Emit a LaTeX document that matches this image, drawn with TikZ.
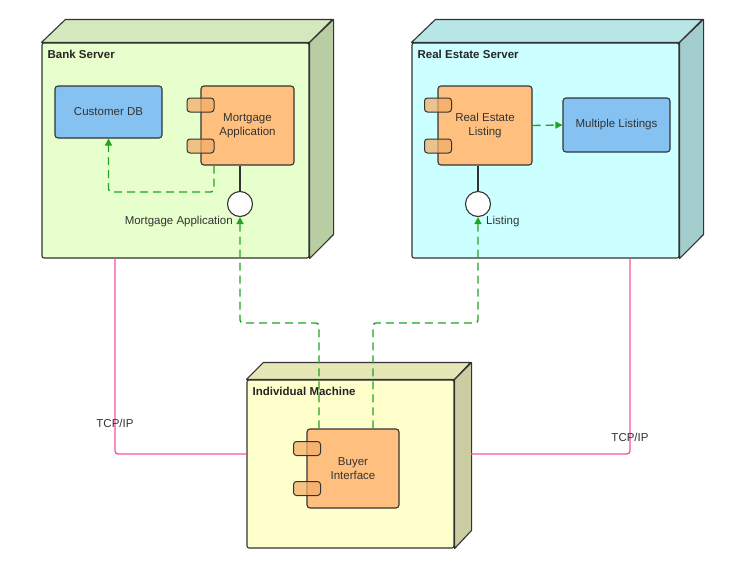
\documentclass[tikz,border=0pt]{standalone}
\usepackage{fontspec}
\setmainfont{Liberation Sans}
\usetikzlibrary{arrows.meta,calc}
\definecolor{bankF}{HTML}{E6FFCC}
\definecolor{bankT}{HTML}{D3E8BD}
\definecolor{bankS}{HTML}{B9CDA2}
\definecolor{reF}{HTML}{CCFFFF}
\definecolor{reT}{HTML}{B8E6E6}
\definecolor{reS}{HTML}{A3CCCC}
\definecolor{indF}{HTML}{FFFFCC}
\definecolor{indT}{HTML}{E6E6B6}
\definecolor{indS}{HTML}{CCCCA3}
\definecolor{compO}{HTML}{FFC07F}
\definecolor{portO}{HTML}{F2AE6A}
\definecolor{dbB}{HTML}{85C2F2}
\definecolor{depG}{HTML}{22A322}
\definecolor{tcpP}{HTML}{FF4F9F}
\definecolor{strokeG}{HTML}{333333}
\definecolor{txtG}{HTML}{333333}
\tikzset{
  front/.style={draw=strokeG, line width=1.1pt, rounded corners=2pt, inner sep=0pt},
  face/.style={draw=strokeG, line width=1.1pt, line join=round},
  comp/.style={draw=strokeG, line width=1.1pt, fill=compO, rounded corners=3pt, align=center, text=txtG, font=\fontsize{11.5}{14}\selectfont, inner sep=0pt},
  port/.style={draw=strokeG, line width=1pt, fill=portO, fill opacity=0.75, rounded corners=3pt, minimum width=27pt, minimum height=14pt, inner sep=0pt},
  dbbox/.style={draw=strokeG, line width=1.1pt, fill=dbB, rounded corners=3pt, align=center, text=txtG, font=\fontsize{11.5}{14}\selectfont, inner sep=0pt},
  lolli/.style={circle, draw=strokeG, line width=1.1pt, fill=white, minimum size=25pt, inner sep=0pt},
  dep/.style={draw=depG, line width=1.4pt, dash pattern=on 8pt off 5pt, rounded corners=3pt, -{Triangle[length=7pt,width=7pt]}},
  tcp/.style={draw=tcpP, line width=1.3pt, rounded corners=3pt},
  ttl/.style={font=\bfseries\fontsize{11.5}{14}\selectfont, text=black!85, inner sep=0pt},
  lbl/.style={font=\fontsize{11.5}{14}\selectfont, text=txtG, inner sep=0pt},
}
\begin{document}
\begin{tikzpicture}[x=1pt,y=-1pt]
\useasboundingbox (0,0) rectangle (747,565);
% ---- Bank Server
\node[front, fill=bankF, minimum width=267pt, minimum height=215pt] (bank) at (175.5,150.5) {};
\filldraw[face, fill=bankT] (bank.north west) -- ++(24,-23) -- ++(267,0) -- (bank.north east) -- cycle;
\filldraw[face, fill=bankS] (bank.north east) -- ++(24,-23) -- ++(0,215) -- (bank.south east) -- cycle;
\node[ttl, anchor=north west] (bankT) at ([shift={(6pt,-8pt)}]bank.north west) {Bank Server};
% ---- Real Estate Server
\node[front, fill=reF, minimum width=267pt, minimum height=215pt] (re) at (545.5,150.5) {};
\filldraw[face, fill=reT] (re.north west) -- ++(24,-23) -- ++(267,0) -- (re.north east) -- cycle;
\filldraw[face, fill=reS] (re.north east) -- ++(24,-23) -- ++(0,215) -- (re.south east) -- cycle;
\node[ttl, anchor=north west] (reT) at ([shift={(6pt,-8pt)}]re.north west) {Real Estate Server};
% ---- Individual Machine
\node[front, fill=indF, minimum width=207pt, minimum height=168pt] (ind) at (350.5,464) {};
\filldraw[face, fill=indT] (ind.north west) -- ++(17,-17) -- ++(207,0) -- (ind.north east) -- cycle;
\filldraw[face, fill=indS] (ind.north east) -- ++(17,-17) -- ++(0,168) -- (ind.south east) -- cycle;
\node[ttl, anchor=north west] (indT) at ([shift={(6pt,-8pt)}]ind.north west) {Individual Machine};
% ---- Components
\node[dbbox, minimum width=107pt, minimum height=52pt] (cdb) at (108.5,112) {Customer DB};
\node[dbbox, minimum width=107pt, minimum height=54pt] (ml) at (616.5,125) {Multiple Listings};
\node[comp, minimum width=93pt, minimum height=79pt] (mort) at (247.5,125.5) {Mortgage\\Application};
\node[port] (mp1) at (200.5,105) {};
\node[port] (mp2) at (200.5,146) {};
\node[comp, minimum width=94pt, minimum height=79pt] (rel) at (485,125.5) {Real Estate\\Listing};
\node[port] (rp1) at (438,105) {};
\node[port] (rp2) at (438,146) {};
\node[comp, minimum width=92pt, minimum height=79pt] (buy) at (353,468.5) {Buyer\\Interface};
\node[port] (bp1) at (307,448.5) {};
\node[port] (bp2) at (307,488.5) {};
% ---- Lollipops
\node[lolli] (lol1) at (240,204) {};
\node[lolli] (lol2) at (478,204) {};
\draw[strokeG, line width=1.1pt] (mort.south -| lol1) -- (lol1);
\draw[strokeG, line width=1.1pt] (rel.south -| lol2) -- (lol2);
\node[lbl, anchor=east] (lab1) at (233,222) {Mortgage Application};
\node[lbl, anchor=west] (lab2) at (486,222) {Listing};
% ---- Dependencies
\coordinate (c1) at (214,192);
\draw[dep] (mort.south -| c1) -- (c1) -| (cdb.south);
\draw[dep] (rel.east) -- (ml.west);
\coordinate (b1) at (319,323);
\coordinate (b2) at (373,323);
\draw[dep] (buy.north -| b1) -- (b1) -| (lol1.south);
\draw[dep] (buy.north -| b2) -- (b2) -| (lol2.south);
% ---- TCP/IP
\coordinate (p1) at (115,454);
\coordinate (p2) at (630,454);
\coordinate (indR) at (471,454);
\draw[tcp] (bank.south -| p1) -- (p1) -- (p1 -| ind.west);
\draw[tcp] (re.south -| p2) -- (p2) -- (indR);
\node[lbl] (tcp1) at (115,423) {TCP/IP};
\node[lbl] (tcp2) at (630,437) {TCP/IP};
\end{tikzpicture}
\end{document}
